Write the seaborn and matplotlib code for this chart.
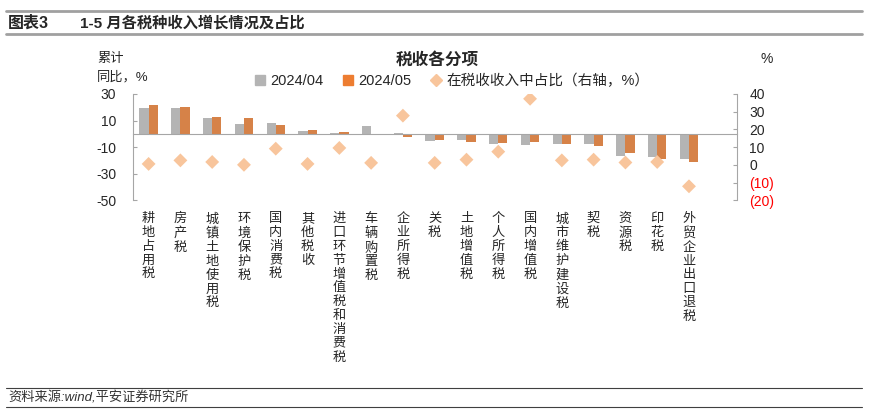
import numpy as np
import pandas as pd
import seaborn as sns
import matplotlib.pyplot as plt
from matplotlib.lines import Line2D
from matplotlib.ticker import FuncFormatter


categories = ['耕地占用税', '房产税', '城镇土地使用税', '环境保护税', '国内消费税', '其他税收',
              '进口环节增值税和消费税', '车辆购置税', '企业所得税', '关税', '土地增值税', '个人所得税',
              '国内增值税', '城市维护建设税', '契税', '资源税', '印花税', '外贸企业出口退税']
growth_apr = [19.8, 19.1, 11.8, 7.5, 8.3, 2.3, 1.0, 5.8, 0.8, -5.3, -4.8, -7.3,
              -8.0, -7.8, -7.3, -16.3, -17.4, -19.1]
growth_may = [21.4, 19.9, 12.6, 11.8, 6.8, 3.0, 1.5, -0.3, -2.0, -4.5, -5.8, -6.5,
              -6.3, -7.8, -9.1, -14.3, -18.9, -21.4]
share = [0.6, 2.6, 1.7, 0.1, 9.2, 0.6, 9.6, 1.2, 27.8, 1.2, 3.0, 7.5,
         37.3, 2.6, 3.0, 1.4, 1.7, -12.0]
periods = ['2024/04', '2024/05']
left_ticks = [30, 10, -10, -30, -50]
right_ticks = [40, 30, 20, 10, 0, -10, -20]

sns.set_style('white')
plt.rcParams['font.family'] = ['Liberation Sans', 'Noto Sans CJK SC']
plt.rcParams['axes.unicode_minus'] = False

n = len(categories)
df = pd.DataFrame({
    '税种': categories * 2,
    '期间': [periods[0]] * n + [periods[1]] * n,
    '同比': growth_apr + growth_may,
})

gray = '#B4B4B4'
orange = '#ED7D31'
peach = '#F8C59C'
axis_col = '#A6A6A6'

fig = plt.figure(figsize=(8.72, 4.19), dpi=100)
ax = fig.add_axes([0.1522, 0.5215, 0.6926, 0.2542])

sns.barplot(data=df, x='税种', y='同比', hue='期间', order=categories, hue_order=periods,
            palette=[gray, orange], width=0.58, gap=0, linewidth=0, legend=False, ax=ax)

ax.set_ylim(-50, 30)
ax.set_yticks(left_ticks)
ax.set_xticks(np.arange(n) + 0.5)
ax.set_xticklabels([])
ax.set_xlabel('')
ax.set_ylabel('')
for s in ['top', 'right']:
    ax.spines[s].set_visible(False)
ax.spines['bottom'].set_position(('data', 0))
ax.spines['bottom'].set_color(axis_col)
ax.spines['left'].set_color(axis_col)
ax.tick_params(axis='y', direction='in', length=3, color=axis_col, labelsize=10, pad=12)
ax.tick_params(axis='x', direction='in', length=4, color=axis_col)

for i, name in enumerate(categories):
    ax.annotate('\n'.join(name), xy=(i, 0), xycoords=('data', 'axes fraction'),
                xytext=(0, -9), textcoords='offset points', ha='center', va='top',
                fontsize=9.5, linespacing=1.2)

ax2 = ax.twinx()
sns.scatterplot(x=np.arange(n), y=share, marker='D', s=50, color=peach,
                edgecolor='none', legend=False, ax=ax2)
ax2.set_ylim(-20, 40)
ax2.set_yticks(right_ticks)
ax2.yaxis.set_major_formatter(FuncFormatter(lambda v, p: f'({abs(int(v))})' if v < 0 else f'{int(v)}'))
ax2.set_ylabel('')
for s in ['top', 'left', 'bottom']:
    ax2.spines[s].set_visible(False)
ax2.spines['right'].set_color(axis_col)
ax2.tick_params(axis='y', direction='in', length=3, color=axis_col, labelsize=10, pad=9)
for lab, v in zip(ax2.get_yticklabels(), right_ticks):
    if v < 0:
        lab.set_color('red')
ax.set_xlim(-0.5, n + 0.5)

# titles and axis notes
fig.text(437 / 872, 1 - 60 / 419, '税收各分项', ha='center', va='center', fontsize=12, weight='bold')
fig.text(97 / 872, 1 - 59 / 419, '累计', ha='left', va='center', fontsize=9.5)
fig.text(97 / 872, 1 - 77 / 419, '同比，%', ha='left', va='center', fontsize=9.5)
fig.text(767 / 872, 1 - 59 / 419, '%', ha='center', va='center', fontsize=10)

handles = [
    Line2D([], [], marker='s', color=gray, linestyle='', markersize=7),
    Line2D([], [], marker='s', color=orange, linestyle='', markersize=7),
    Line2D([], [], marker='D', color=peach, linestyle='', markersize=6),
]
fig.legend(handles, periods + ['在税收收入中占比（右轴，%）'], ncol=3, loc='center',
           bbox_to_anchor=(452 / 872, 1 - 81 / 419), frameon=False, fontsize=10.5,
           handlelength=0.8, handletextpad=0.3, columnspacing=1.3)

# header and footer
for yy in [11, 34]:
    fig.add_artist(Line2D([6 / 872, 862 / 872], [1 - yy / 419] * 2, transform=fig.transFigure,
                          color='#A0A0A0', lw=2))
fig.text(8 / 872, 1 - 23 / 419, '图表3', fontsize=11.5, weight='bold', va='center')
fig.text(80 / 872, 1 - 23 / 419, '1-5 月各税种收入增长情况及占比', fontsize=11, weight='bold', va='center')
for yy in [388, 407]:
    fig.add_artist(Line2D([6 / 872, 862 / 872], [1 - yy / 419] * 2, transform=fig.transFigure,
                          color='#404040', lw=0.8))
fig.text(8 / 872, 1 - 397.5 / 419, '资料来源:wind,平安证券研究所', fontsize=9.5, style='italic',
         va='center', color='#333333')

fig.savefig('out.png', dpi=100)
